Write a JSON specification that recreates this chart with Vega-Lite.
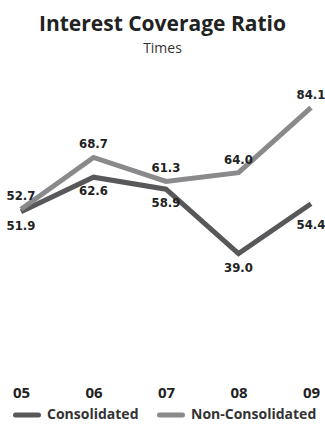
{
  "$schema": "https://vega.github.io/schema/vega-lite/v6.json",
  "width": 325,
  "height": 324,
  "autosize": {"type": "none"},
  "padding": {"left": 0, "right": 0, "top": 56, "bottom": 46},
  "background": "white",
  "title": {
    "text": "Interest Coverage Ratio",
    "subtitle": "Times",
    "anchor": "middle",
    "font": "Open Sans",
    "fontSize": 21,
    "fontWeight": "bold",
    "color": "#222222",
    "subtitleFont": "Open Sans",
    "subtitleFontSize": 14,
    "subtitleColor": "#333333",
    "subtitlePadding": 7,
    "offset": 0
  },
  "data": {
    "values": [
      {"year": "05", "series": "Consolidated", "value": 51.9},
      {"year": "06", "series": "Consolidated", "value": 62.6},
      {"year": "07", "series": "Consolidated", "value": 58.9},
      {"year": "08", "series": "Consolidated", "value": 39.0},
      {"year": "09", "series": "Consolidated", "value": 54.4},
      {"year": "05", "series": "Non-Consolidated", "value": 52.7},
      {"year": "06", "series": "Non-Consolidated", "value": 68.7},
      {"year": "07", "series": "Non-Consolidated", "value": 61.3},
      {"year": "08", "series": "Non-Consolidated", "value": 64.0},
      {"year": "09", "series": "Non-Consolidated", "value": 84.1}
    ]
  },
  "encoding": {
    "x": {
      "field": "year",
      "type": "ordinal",
      "scale": {"type": "point", "padding": 0.2414, "align": 0.6},
      "axis": {
        "title": null,
        "domain": false,
        "ticks": false,
        "labelAngle": 0,
        "labelFont": "Open Sans",
        "labelFontSize": 15,
        "labelFontWeight": "bold",
        "labelColor": "#222222",
        "labelPadding": 5
      }
    },
    "y": {
      "field": "value",
      "type": "quantitative",
      "scale": {"domain": [0, 100]},
      "axis": null
    }
  },
  "layer": [
    {
      "mark": {"type": "line", "strokeWidth": 5},
      "encoding": {
        "color": {
          "field": "series",
          "type": "nominal",
          "scale": {
            "domain": ["Consolidated", "Non-Consolidated"],
            "range": ["#58585a", "#8a8a8c"]
          },
          "legend": {
            "title": null,
            "orient": "none",
            "direction": "horizontal",
            "legendX": 13,
            "legendY": 345,
            "symbolType": "stroke",
            "symbolSize": 529,
            "symbolStrokeWidth": 5,
            "labelFont": "Open Sans",
            "labelFontSize": 14,
            "labelFontWeight": "bold",
            "labelColor": "#333333",
            "labelOffset": 6,
            "columnPadding": 10,
            "encode": {"symbols": {"update": {"strokeCap": {"value": "round"}}}}
          }
        }
      }
    },
    {
      "transform": [{"filter": "datum.series === 'Non-Consolidated'"}],
      "mark": {"type": "text", "dy": -13, "font": "DejaVu Sans Condensed", "fontSize": 13, "fontWeight": "bold", "color": "#222222"},
      "encoding": {"text": {"field": "value", "type": "quantitative", "format": ".1f"}}
    },
    {
      "transform": [{"filter": "datum.series === 'Consolidated' && datum.year !== '09'"}],
      "mark": {"type": "text", "dy": 14, "font": "DejaVu Sans Condensed", "fontSize": 13, "fontWeight": "bold", "color": "#222222"},
      "encoding": {"text": {"field": "value", "type": "quantitative", "format": ".1f"}}
    },
    {
      "transform": [{"filter": "datum.series === 'Consolidated' && datum.year === '09'"}],
      "mark": {"type": "text", "dx": 0, "dy": 21, "font": "DejaVu Sans Condensed", "fontSize": 13, "fontWeight": "bold", "color": "#222222"},
      "encoding": {"text": {"field": "value", "type": "quantitative", "format": ".1f"}}
    }
  ],
  "config": {"view": {"stroke": null}}
}
